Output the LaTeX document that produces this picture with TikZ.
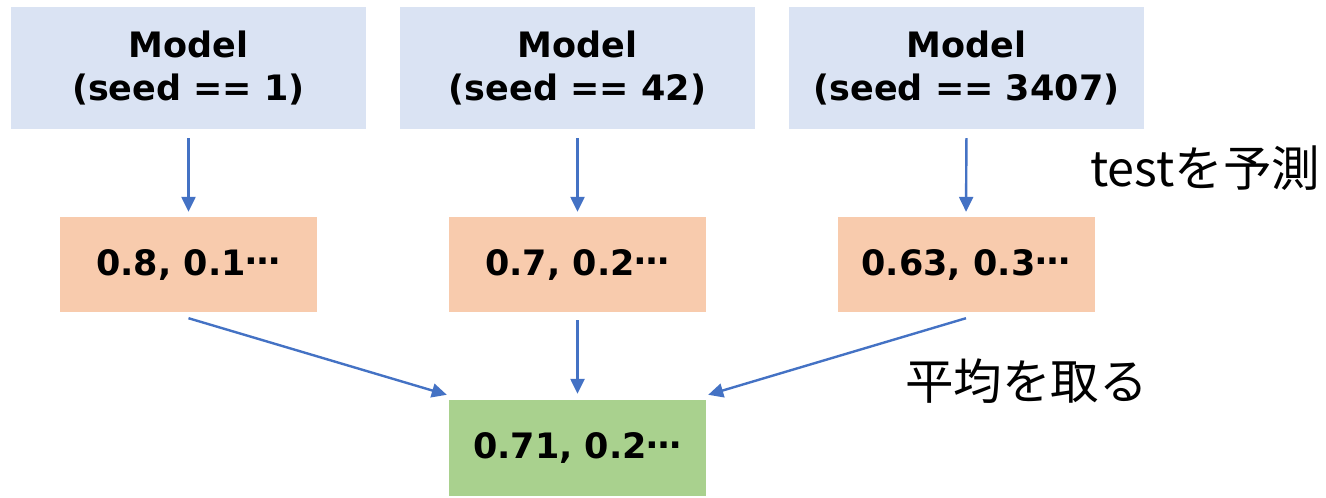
\documentclass[tikz,border=0pt]{standalone}
\usepackage{fontspec}
\setmainfont{DejaVu Sans}
\newfontfamily\jp{Noto Sans CJK JP}
\usetikzlibrary{arrows.meta,calc}
\definecolor{mblue}{HTML}{DAE3F3}
\definecolor{morange}{HTML}{F8CBAD}
\definecolor{mgreen}{HTML}{A9D18E}
\definecolor{marrow}{HTML}{4472C4}
\newcommand{\jpdots}{\raisebox{0.3em}{…}}
\begin{document}
\begin{tikzpicture}[x=1pt,y=-1pt,
  box/.style={inner sep=0pt,align=center,font=\bfseries\fontsize{35}{43}\selectfont},
  modelbox/.style={box,fill=mblue,minimum width=355pt,minimum height=122pt},
  predbox/.style={box,fill=morange,minimum width=257pt,minimum height=95pt},
  resbox/.style={box,fill=mgreen,minimum width=257pt,minimum height=96pt},
  arr/.style={draw=marrow,line width=2.4pt,-{Triangle[length=15pt,width=14pt]}},
  lab/.style={anchor=west,inner sep=0pt,font=\jp\fontsize{48.5}{52}\selectfont}]
\useasboundingbox (0,0) rectangle (1326,498);
\node[modelbox] (m1) at (188.5,68) {Model\\(seed == 1)};
\node[modelbox] (m2) at (577.5,68) {Model\\(seed == 42)};
\node[modelbox] (m3) at (966.5,68) {Model\\(seed == 3407)};
\node[predbox] (p1) at (188.5,264.5) {0.8, 0.1\jpdots};
\node[predbox] (p2) at (577.5,264.5) {0.7, 0.2\jpdots};
\node[predbox] (p3) at (966,264.5) {0.63, 0.3\jpdots};
\node[resbox] (r) at (577.5,448) {0.71, 0.2\jpdots};
\node[lab] (t1) at (1090,168) {testを予測};
\node[lab] (t2) at (905,381) {平均を取る};
\draw[arr,shorten <=9pt,shorten >=5pt] (m1.south) -- (p1.north);
\draw[arr,shorten <=9pt,shorten >=5pt] (m2.south) -- (p2.north);
\draw[arr,shorten <=9pt,shorten >=5pt] (m3.south) -- (p3.north);
\draw[arr] ($(p1.south)+(0,6)$) -- ($(r.north west)+(-2,-5)$);
\draw[arr,shorten <=8pt,shorten >=6pt] (p2.south) -- (r.north);
\draw[arr] ($(p3.south)+(0,6)$) -- ($(r.north east)+(2,-5)$);
\end{tikzpicture}
\end{document}
